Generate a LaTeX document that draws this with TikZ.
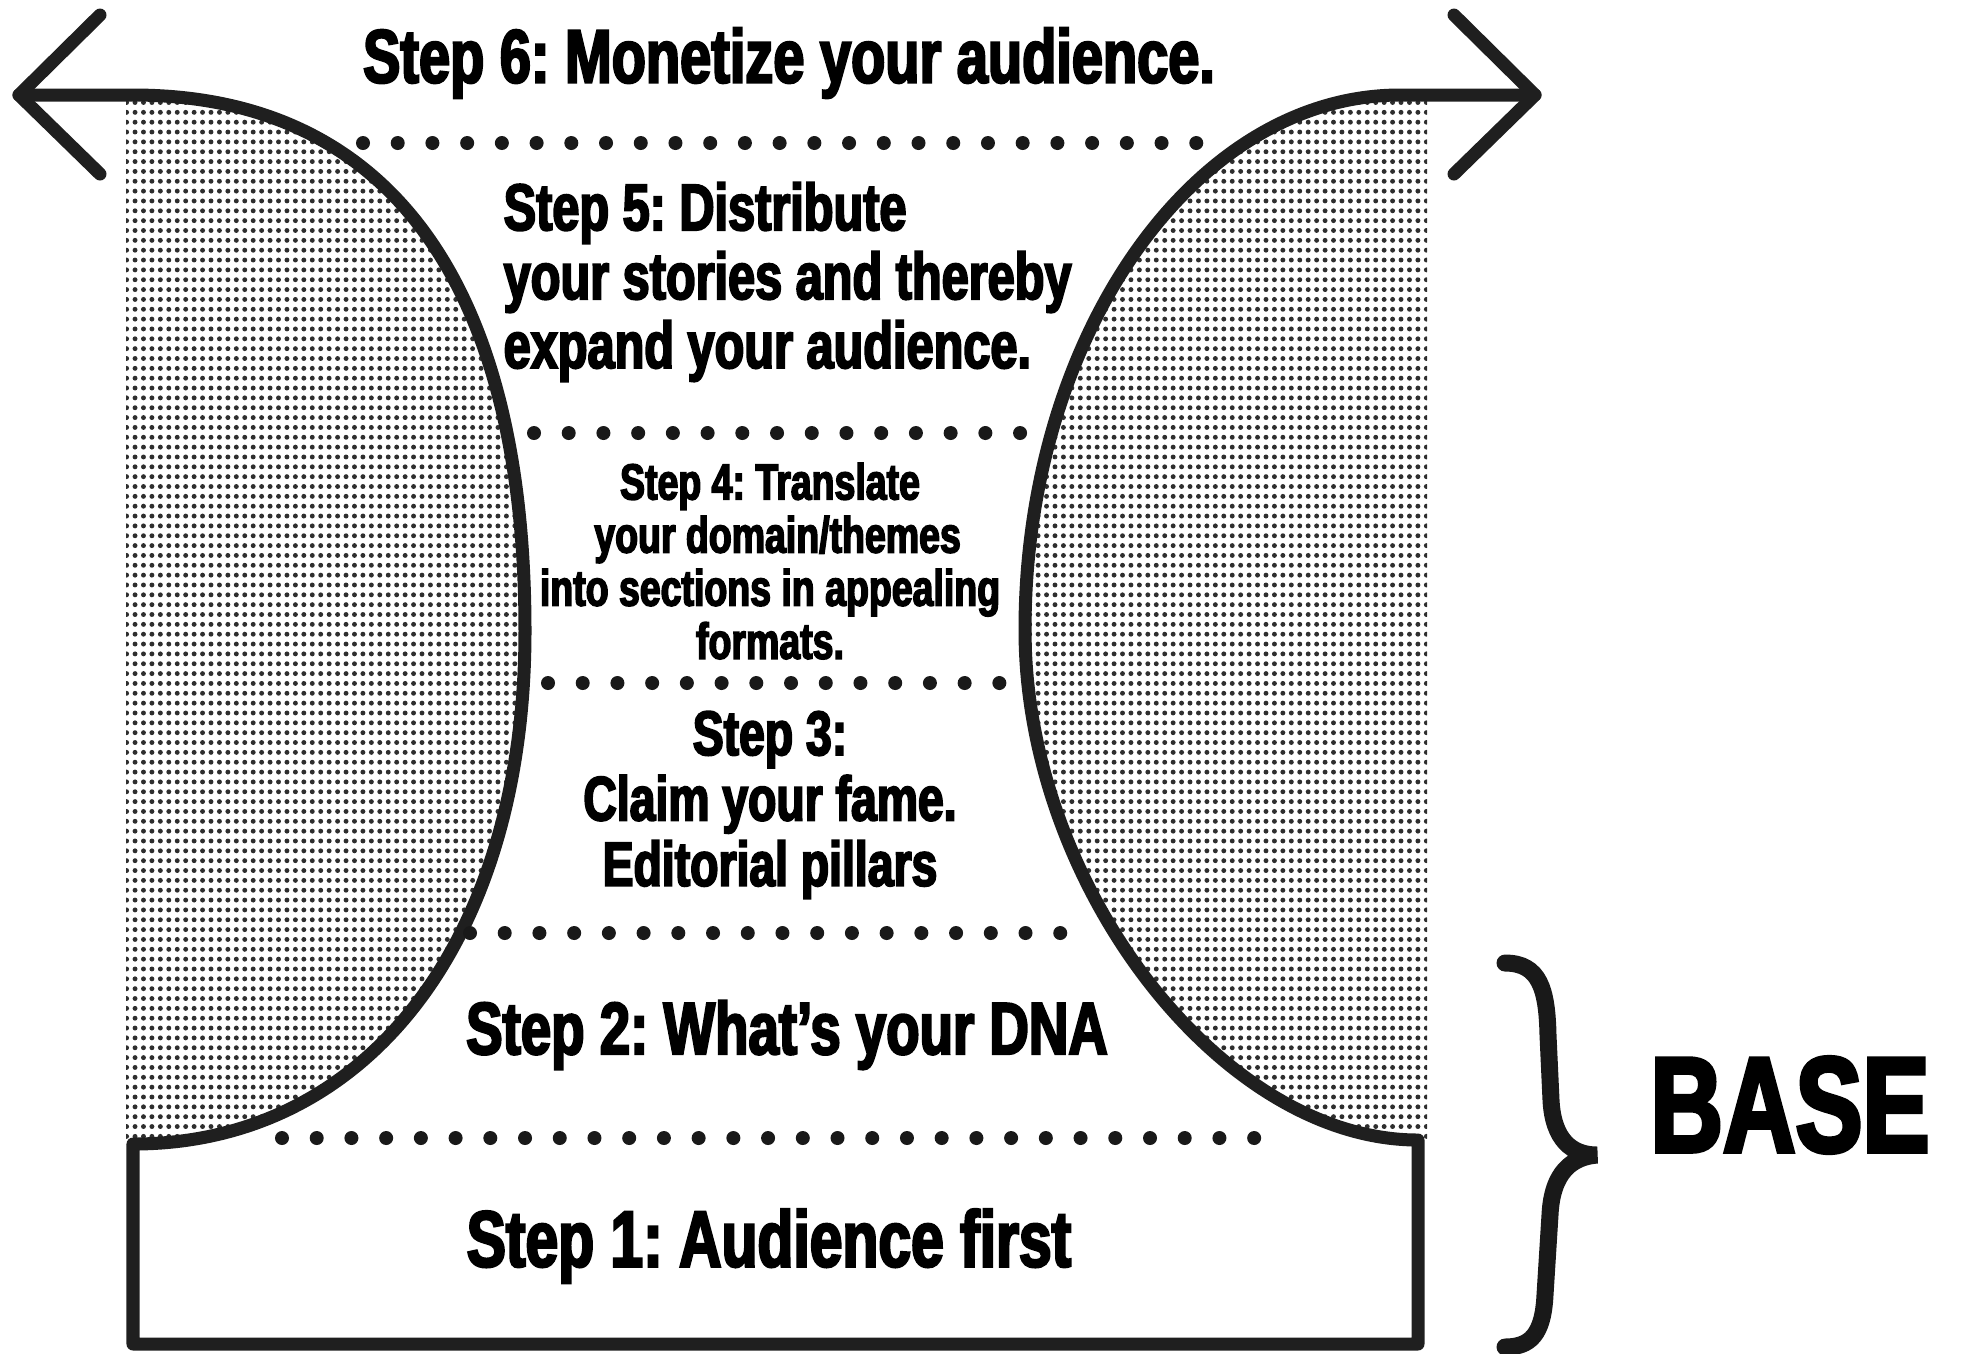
\documentclass[tikz,border=0pt]{standalone}
\usepackage{fontspec}
\usepackage{tikz}
\usetikzlibrary{patterns,positioning}
\newfontfamily\stepfont{Liberation Sans}[UprightFont=* Bold, FakeStretch=0.74, FakeBold=3]
\pgfdeclarepatternformonly{stipple}{\pgfqpoint{-1pt}{-1pt}}{\pgfqpoint{1pt}{1pt}}%
  {\pgfqpoint{2.4pt}{2.8pt}}{\pgfpathcircle{\pgfpointorigin}{0.7pt}\pgfusepath{fill}}
\frenchspacing

\begin{document}
\begin{tikzpicture}[x=0.01cm, y=-0.01cm,
  outline/.style={line width=0.13cm, draw=black!88, line cap=round, line join=round},
  stippled/.style={pattern=stipple, pattern color=black!82},
  dotrow/.style={line width=0.14cm, draw=black!90, line cap=round,
    dash pattern=on 0pt off 0.347cm},
  steptxt/.style={inner sep=0pt, align=center, text=black},
  big/.style={font=\stepfont\fontsize{21.5}{24}\selectfont},
  mid/.style={font=\stepfont\fontsize{18.7}{19.6}\selectfont},
  small/.style={font=\stepfont\fontsize{14.4}{15.1}\selectfont}]
  \useasboundingbox (0,0) rectangle (1963,1353);

  \fill[stippled] (126,95) -- (133,95) .. controls (388,95) and (525,283) .. (525,631)
    .. controls (525,939) and (368,1144) .. (133,1144) -- (126,1144) -- cycle;
  \fill[stippled] (1427,95) -- (1400,95) .. controls (1194,95) and (1025,336) .. (1025,630)
    .. controls (1025,885) and (1221,1140) .. (1418,1140) -- (1427,1140) -- cycle;

  \draw[outline] (100,15) -- (19,95) -- (100,174);
  \draw[outline] (19,95) -- (133,95) .. controls (388,95) and (525,283) .. (525,631)
    .. controls (525,939) and (368,1144) .. (133,1144) -- (133,1344) -- (1418,1344)
    -- (1418,1140) .. controls (1221,1140) and (1025,885) .. (1025,630)
    .. controls (1025,336) and (1194,95) .. (1400,95) -- (1535,95);
  \draw[outline] (1454,15) -- (1535,95) -- (1454,174);

  \draw[dotrow] (363,143) -- (1199,143);
  \draw[dotrow] (534,433) -- (1023,433);
  \draw[dotrow] (548,683) -- (1002,683);
  \draw[dotrow] (470,933) -- (1064,933);
  \draw[dotrow] (282,1138) -- (1257,1138);

  \node[steptxt, big] (step6) at (789,63) {Step 6: Monetize your audience.};
  \node[steptxt, mid, align=left, anchor=west] (step5) at (503,282)
    {Step 5: Distribute\\your stories and thereby\\expand your audience.};
  \node[steptxt, small] (step4) at (770,561)
    {Step 4: Translate\\\hspace*{0.3em}your domain/themes\\into sections in appealing\\formats.};
  \node[steptxt, font=\stepfont\fontsize{17.8}{18.6}\selectfont] (step3) at (770,805)
    {Step 3:\\Claim your fame.\\Editorial pillars};
  \node[steptxt, font=\stepfont\fontsize{21}{24}\selectfont] (step2) at (787,1035)
    {Step 2: What’s your DNA};
  \node[steptxt, font=\stepfont\fontsize{22.6}{24}\selectfont] (step1) at (769,1246)
    {Step 1: Audience first};

  \draw[line width=0.17cm, black!90, line cap=round]
    (1505,963) .. controls (1540,963) and (1547,990) .. (1548,1035) -- (1551,1100)
    .. controls (1553,1140) and (1572,1155) .. (1597,1155)
    .. controls (1572,1157) and (1552,1172) .. (1550,1215) -- (1545,1295)
    .. controls (1543,1335) and (1530,1347) .. (1505,1347);
  \node[steptxt, font=\stepfont\fontsize{38.6}{40}\selectfont] (base) at (1790,1105) {BASE};
\end{tikzpicture}
\end{document}
